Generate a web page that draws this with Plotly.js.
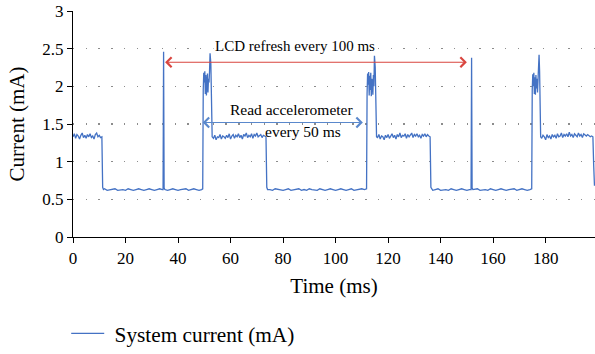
<!DOCTYPE html>
<html>
<head>
<meta charset="utf-8">
<script src="https://cdn.plot.ly/plotly-3.0.1.min.js"></script>
<style>html,body{margin:0;padding:0;background:#fff;}#chart{width:595px;height:354px;}</style>
</head>
<body>
<div id="chart"></div>
<script>
// Time samples (ms)
const timeMs = [
  0,0.5,1,1.5,2,2.5,3,3.5,4,4.5,5,5.5,6,6.5,7,7.5,8,8.5,9,9.5,10,10.5,11,
  11.3,11.6,
  12,13,14,15,16,17,18,19,20,21,22,23,24,25,26,27,28,29,30,31,32,33,34,
  34.3,34.5,34.7,35,
  36,37,38,39,40,41,42,43,44,45,46,47,48,49,
  49.4,49.6,49.8,50.0,50.2,50.4,50.6,50.8,51.0,51.2,51.4,51.6,51.8,52.0,52.2,52.5,52.8,53.0,
  53.5,54,54.5,55,55.5,56,56.5,57,57.5,58,58.5,59,59.5,60,60.5,61,61.5,62,62.5,63,63.5,64,64.5,65,65.5,66,66.5,67,67.5,68,68.5,69,69.5,70,70.5,71,71.5,72,72.5,73,73.5,
  73.8,74.1,
  75,76,77,78,79,80,81,82,83,84,85,86,87,88,89,90,91,92,93,94,95,96,97,98,99,100,101,102,103,104,105,106,107,108,109,110,111,
  111.8,112.0,112.2,112.4,112.6,112.8,113.0,113.2,113.4,113.6,113.8,114.0,114.2,114.4,114.6,114.8,115.1,115.4,115.6,
  116,116.5,117,117.5,118,118.5,119,119.5,120,120.5,121,121.5,122,122.5,123,123.5,124,124.5,125,125.5,126,126.5,127,127.5,128,128.5,129,129.5,130,130.5,131,131.5,132,132.5,133,133.5,134,134.5,135,135.5,136,
  136.3,136.6,
  137,138,139,140,141,142,143,144,145,146,147,148,149,150,151,
  151.6,151.8,152.0,152.3,
  153,154,155,156,157,158,159,160,161,162,163,164,165,166,167,168,169,170,171,172,173,174,
  174.7,174.9,175.1,175.3,175.5,175.7,175.9,176.1,176.3,176.5,176.7,176.9,177.1,177.3,177.5,177.7,177.9,178.1,
  178.5,179,179.5,180,180.5,181,181.5,182,182.5,183,183.5,184,184.5,185,185.5,186,186.5,187,187.5,188,188.5,189,189.5,190,190.5,191,191.5,192,192.5,193,193.5,194,194.5,195,195.5,196,196.5,197,197.5,198,
  198.3,198.6
];
// System current (mA)
const currentMa = [
  1.33,1.37,1.31,1.36,1.34,1.30,1.35,1.38,1.32,1.35,1.31,1.36,1.33,1.37,1.32,1.34,1.30,1.36,1.38,1.33,1.35,1.32,1.33,
  0.66,0.63,
  0.64,0.62,0.63,0.63,0.64,0.62,0.63,0.63,0.62,0.64,0.63,0.62,0.63,0.64,0.63,0.62,0.63,0.64,0.63,0.62,0.63,0.64,0.63,
  0.63,2.46,0.65,0.63,
  0.62,0.63,0.64,0.63,0.62,0.63,0.63,0.64,0.62,0.63,0.64,0.63,0.62,0.63,
  0.64,1.95,2.18,2.05,2.20,1.90,2.15,1.88,2.12,2.17,1.92,2.10,2.05,2.20,2.44,2.30,1.45,1.33,
  1.31,1.35,1.29,1.33,1.32,1.36,1.30,1.34,1.33,1.31,1.35,1.32,1.37,1.30,1.34,1.36,1.31,1.35,1.33,1.37,1.32,1.35,1.30,1.36,1.34,1.38,1.32,1.35,1.33,1.37,1.31,1.36,1.34,1.38,1.33,1.35,1.36,1.32,1.35,1.34,1.33,
  0.66,0.63,
  0.63,0.62,0.64,0.63,0.63,0.62,0.63,0.64,0.62,0.63,0.63,0.64,0.62,0.63,0.62,0.64,0.63,0.63,0.62,0.64,0.63,0.62,0.63,0.64,0.63,0.62,0.63,0.64,0.63,0.62,0.63,0.64,0.62,0.63,0.63,0.64,0.63,
  0.64,1.90,2.17,2.02,2.19,1.88,2.14,1.95,2.18,1.87,2.10,2.06,1.89,2.15,2.00,2.41,2.25,1.40,1.33,
  1.32,1.36,1.30,1.34,1.33,1.29,1.35,1.32,1.36,1.31,1.34,1.37,1.32,1.35,1.30,1.36,1.33,1.38,1.32,1.35,1.34,1.37,1.31,1.36,1.33,1.35,1.38,1.32,1.36,1.34,1.37,1.33,1.35,1.31,1.36,1.34,1.37,1.33,1.36,1.34,1.33,
  0.66,0.63,
  0.62,0.63,0.64,0.62,0.63,0.63,0.62,0.64,0.63,0.62,0.63,0.64,0.63,0.62,0.63,
  0.63,2.38,0.65,0.63,
  0.63,0.64,0.62,0.63,0.63,0.62,0.64,0.63,0.62,0.63,0.64,0.63,0.62,0.63,0.63,0.64,0.62,0.63,0.64,0.63,0.62,0.63,
  0.64,1.95,2.16,2.00,2.18,1.90,2.12,1.89,2.15,1.97,2.10,1.92,2.05,2.20,2.42,2.20,1.45,1.33,
  1.31,1.35,1.33,1.29,1.36,1.32,1.34,1.30,1.36,1.33,1.35,1.31,1.37,1.33,1.34,1.38,1.32,1.36,1.34,1.37,1.33,1.39,1.34,1.36,1.32,1.37,1.35,1.33,1.38,1.34,1.36,1.32,1.37,1.35,1.34,1.36,1.35,1.33,1.34,1.33,
  0.95,0.68
];
const xTickVals = [0,20,40,60,80,100,120,140,160,180];
const xTickText = ["0","20","40","60","80","100","120","140","160","180"];
const yTickVals = [0,0.5,1,1.5,2,2.5,3];
const yTickText = ["0","0.5","1","1.5","2","2.5","3"];

// Annotation arrows (ms, mA)
const lcdArrowStart = 34.5, lcdArrowEnd = 150, lcdArrowLevel = 2.32;
const accArrowStart = 48.8, accArrowEnd = 110.4, accArrowLevel = 1.52;

const FONT = "Liberation Serif";

const trace = {
  x: timeMs, y: currentMa, type: "scatter", mode: "lines",
  name: "\u00a0System current (mA)",
  line: {color: "#4472c4", width: 1.3},
  hoverinfo: "none"
};

const layout = {
  width: 595, height: 354,
  margin: {l: 73, r: 0, t: 11, b: 116},
  paper_bgcolor: "#fff", plot_bgcolor: "#fff",
  font: {family: FONT, color: "#000", size: 17},
  showlegend: true,
  legend: {orientation: "h", x: -0.013, xanchor: "left", y: -0.425, yanchor: "middle", itemwidth: 33,
           font: {family: FONT, size: 21.3, color: "#000"}, bgcolor: "rgba(0,0,0,0)"},
  xaxis: {
    range: [0, 198.8], tickmode: "array", tickvals: xTickVals, ticktext: xTickText,
    showgrid: false, zeroline: false, showline: true, linecolor: "#000", linewidth: 1.2,
    ticks: "outside", ticklen: 5, tickwidth: 1, tickcolor: "#000",
    tickfont: {family: FONT, size: 17, color: "#000"},
    title: {text: "Time (ms)", font: {family: FONT, size: 21, color: "#000"}, standoff: 11}
  },
  yaxis: {
    range: [0, 3], tickmode: "array", tickvals: yTickVals, ticktext: yTickText,
    showgrid: true, gridcolor: "#8c8c8c", gridwidth: 1.4, griddash: "1.4px,11.3px",
    zeroline: false, showline: true, linecolor: "#000", linewidth: 1.2,
    ticks: "outside", ticklen: 5, tickwidth: 1, tickcolor: "#000",
    tickfont: {family: FONT, size: 17, color: "#000"},
    title: {text: "Current (mA)", font: {family: FONT, size: 21, color: "#000"}, standoff: 11}
  },
  annotations: [
    {x: lcdArrowEnd, y: lcdArrowLevel, ax: lcdArrowStart, ay: lcdArrowLevel, xref: "x", yref: "y",
     axref: "x", ayref: "y", text: "", showarrow: true, arrowside: "end+start",
     arrowhead: 4, startarrowhead: 4, arrowsize: 1.6, startarrowsize: 1.6, arrowwidth: 1.2, arrowcolor: "#d9453f",
     standoff: 0, startstandoff: 0},
    {x: accArrowEnd, y: accArrowLevel, ax: accArrowStart, ay: accArrowLevel, xref: "x", yref: "y",
     axref: "x", ayref: "y", text: "", showarrow: true, arrowside: "end+start",
     arrowhead: 4, startarrowhead: 4, arrowsize: 1.6, startarrowsize: 1.6, arrowwidth: 1.2, arrowcolor: "#5a88cc",
     standoff: 0, startstandoff: 0},
    {x: 84.6, y: 2.53, xref: "x", yref: "y", text: "LCD refresh every 100 ms", showarrow: false,
     font: {family: FONT, size: 15, color: "#000"}, bgcolor: "#fff", borderpad: 1},
    {x: 83.2, y: 1.69, xref: "x", yref: "y", text: "Read accelerometer", showarrow: false,
     font: {family: FONT, size: 15.5, color: "#000"}, bgcolor: "#fff", borderpad: 0},
    {x: 87.5, y: 1.405, xref: "x", yref: "y", text: "every 50 ms", showarrow: false,
     font: {family: FONT, size: 15.5, color: "#000"}}
  ]
};

Plotly.newPlot("chart", [trace], layout, {staticPlot: true, displayModeBar: false});
</script>
</body>
</html>
